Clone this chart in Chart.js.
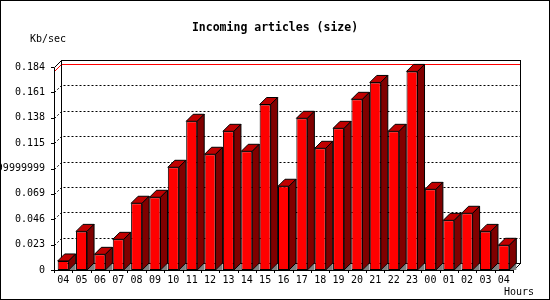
<!DOCTYPE html>
<html>
<head>
<meta charset="utf-8">
<style>
    html, body { margin: 0; padding: 0; background: #fff; }
</style>
</head>
<body>
<canvas id='myChart' width='550' height='300'></canvas>
<script src='https://cdn.jsdelivr.net/npm/chart.js'></script>
<script>
    const hours = ['04', '05', '06', '07', '08', '09', '10', '11', '12', '13', '14', '15', '16',
        '17', '18', '19', '20', '21', '22', '23', '00', '01', '02', '03', '04'];
    const kbSec = [0.0082, 0.035, 0.0142, 0.0278, 0.0605, 0.0659, 0.0931, 0.1348, 0.1049, 0.1257,
        0.1076, 0.150, 0.0759, 0.1375, 0.1103, 0.1284, 0.1547, 0.170, 0.1257, 0.180,
        0.0731, 0.045, 0.0514, 0.035, 0.0224];
    const yTicks = [0, 0.023, 0.046, 0.069, 0.092, 0.115, 0.138, 0.161, 0.184];
    const yLabels = ['0', '0.023', '0.046', '0.069', '0.09199999999999999', '0.115', '0.138', '0.161', '0.184'];

    const depth = 7;
    const mono = 'DejaVu Sans Mono';

    function px(v) {
        return Math.round(v) + 0.5;
    }

    function line(ctx, x1, y1, x2, y2) {
        ctx.beginPath();
        ctx.moveTo(x1, y1);
        ctx.lineTo(x2, y2);
        ctx.stroke();
    }

    function poly(ctx, pts, fill, stroke) {
        ctx.beginPath();
        ctx.moveTo(pts[0][0], pts[0][1]);
        for (let p of pts.slice(1)) {
            ctx.lineTo(p[0], p[1]);
        }
        ctx.closePath();
        ctx.fillStyle = fill;
        ctx.fill();
        if (stroke) {
            ctx.strokeStyle = stroke;
            ctx.stroke();
        }
    }

    // fake 3d: walls, grid, floor shadows and bar sides
    const box3d = {
        id: 'box3d',
        beforeDatasetsDraw(chart) {
            const ctx = chart.ctx;
            const a = chart.chartArea;
            const y = chart.scales.y;
            const x = chart.scales.x;
            ctx.save();
            ctx.lineWidth = 1;

            // dotted grid on back wall and left wall
            ctx.strokeStyle = '#000';
            ctx.setLineDash([2, 2]);
            for (let i = 1; i < yTicks.length - 1; i++) {
                const py = y.getPixelForValue(yTicks[i]);
                line(ctx, px(a.left + depth + 2), px(py - depth), px(a.right + depth), px(py - depth));
                line(ctx, px(a.left), px(py), px(a.left + depth), px(py - depth));
            }
            ctx.setLineDash([]);

            // max line
            const my = y.getPixelForValue(Math.max(...kbSec));
            ctx.strokeStyle = '#ff0000';
            line(ctx, px(a.left + depth), px(my - depth), px(a.right + depth), px(my - depth));
            line(ctx, px(a.left), px(my), px(a.left + depth), px(my - depth));

            // walls
            ctx.strokeStyle = '#000';
            ctx.strokeRect(px(a.left + depth), px(a.top - depth), Math.round(a.right - a.left), Math.round(a.bottom - a.top));
            line(ctx, px(a.left), px(a.top), px(a.left + depth), px(a.top - depth));
            line(ctx, px(a.left), px(a.top), px(a.left), px(a.bottom));
            line(ctx, px(a.left), px(a.bottom), px(a.right), px(a.bottom));
            line(ctx, px(a.right), px(a.bottom), px(a.right + depth), px(a.bottom - depth));

            // tick marks
            for (let v of yTicks) {
                const py = y.getPixelForValue(v);
                line(ctx, a.left - 3, px(py), a.left, px(py));
            }
            const cw = (a.right - a.left) / hours.length;
            for (let i = 0; i <= hours.length; i++) {
                const xx = px(a.left + i * cw);
                line(ctx, xx, a.bottom, xx, a.bottom + 3);
            }

            // floor shadows
            for (let bar of chart.getDatasetMeta(0).data) {
                const p = bar.getProps(['x', 'base', 'width'], true);
                const r = p.x + p.width / 2;
                poly(ctx, [[r, p.base], [r + depth, p.base - depth], [r + depth, p.base]], '#808080');
            }
            ctx.restore();
        },
        afterDatasetsDraw(chart) {
            const ctx = chart.ctx;
            ctx.save();
            ctx.lineWidth = 1;
            for (let bar of chart.getDatasetMeta(0).data) {
                const p = bar.getProps(['x', 'y', 'base', 'width'], true);
                const l = p.x - p.width / 2;
                const r = p.x + p.width / 2;
                poly(ctx, [[l, p.y], [l + depth, p.y - depth], [r + depth, p.y - depth], [r, p.y]], '#c00000', '#000');
                poly(ctx, [[r, p.y], [r + depth, p.y - depth], [r + depth, p.base - depth], [r, p.base]], '#800000', '#000');
            }
            ctx.restore();
        },
        afterDraw(chart) {
            const ctx = chart.ctx;
            ctx.save();
            ctx.fillStyle = '#000';
            ctx.textBaseline = 'middle';
            ctx.font = 'bold 11.5px ' + mono;
            ctx.textAlign = 'center';
            ctx.fillText('Incoming articles (size)', 275, 28);
            ctx.font = '10px ' + mono;
            ctx.textAlign = 'left';
            ctx.fillText('Kb/sec', 30, 39);
            ctx.textAlign = 'right';
            ctx.fillText('Hours', 534, 292);
            ctx.strokeStyle = '#000';
            ctx.lineWidth = 1;
            ctx.strokeRect(0.5, 0.5, 549, 299);
            ctx.restore();
        }
    };

    new Chart(document.getElementById('myChart'), {
        type: 'bar',
        data: {
            labels: hours,
            datasets: [{
                data: kbSec,
                backgroundColor: '#ff0000',
                borderColor: '#000',
                borderWidth: 1,
                borderSkipped: false,
                barPercentage: 0.6,
                categoryPercentage: 1,
            }],
        },
        options: {
            responsive: false,
            animation: false,
            layout: {padding: {top: 67, right: 37, bottom: 0, left: 0}},
            plugins: {legend: {display: false}, tooltip: {enabled: false}},
            scales: {
                x: {
                    grid: {display: false, drawTicks: false},
                    border: {display: false},
                    ticks: {font: {family: mono, size: 10}, color: '#000', padding: 4, maxRotation: 0, autoSkip: false},
                    afterFit(s) { s.height = 30; },
                },
                y: {
                    min: 0,
                    max: 0.184,
                    grid: {display: false, drawTicks: false},
                    border: {display: false},
                    afterBuildTicks(s) { s.ticks = yTicks.map(v => ({value: v})); },
                    ticks: {font: {family: mono, size: 10}, color: '#000', padding: 9, callback: (v, i) => yLabels[i]},
                    afterFit(s) { s.width = 54; },
                },
            },
        },
        plugins: [box3d],
    });
</script>
</body>
</html>
